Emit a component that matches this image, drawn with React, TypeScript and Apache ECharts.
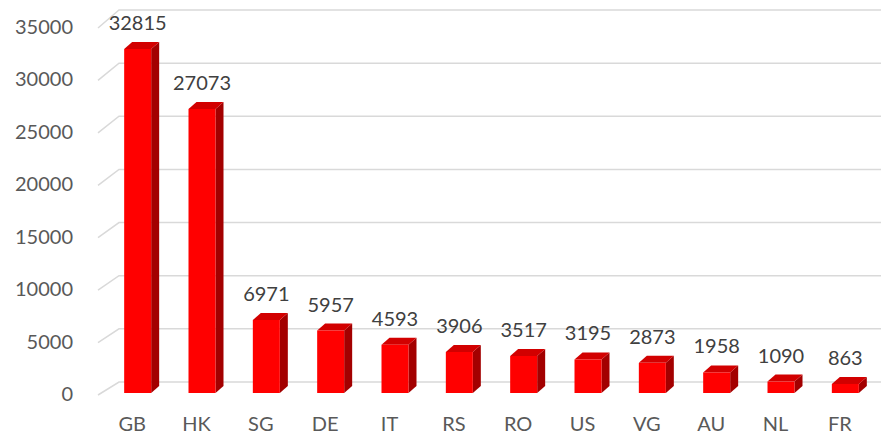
import React, { useEffect, useRef } from "react";
import * as echarts from "echarts";

const categories = ["GB", "HK", "SG", "DE", "IT", "RS", "RO", "US", "VG", "AU", "NL", "FR"];
const values = [32815, 27073, 6971, 5957, 4593, 3906, 3517, 3195, 2873, 1958, 1090, 863];
const yTicks = [0, 5000, 10000, 15000, 20000, 25000, 30000, 35000];

const FONT = "Lato";

export default function App() {
  const ref = useRef<HTMLDivElement>(null);
  useEffect(() => {
    const chart = echarts.init(ref.current!, null, { renderer: "svg" });
    const option: any = {
      animation: false,
      backgroundColor: "#ffffff",
      grid: { left: 100, right: 9, top: 26, bottom: 41 },
      xAxis: {
        type: "category",
        data: categories,
        axisLine: { show: false },
        axisTick: { show: false },
        axisLabel: { color: "#595959", fontSize: 20, fontFamily: FONT, margin: 20 },
      },
      yAxis: {
        type: "value",
        min: 0,
        max: 35000,
        interval: 5000,
        axisLine: { show: false },
        axisTick: { show: false },
        splitLine: { show: false },
        axisLabel: {
          color: "#595959",
          fontSize: 20,
          fontFamily: FONT,
          margin: 27,
          formatter: (v: number) => String(v),
        },
      },
      series: [
        {
          type: "custom",
          z: 1,
          data: yTicks.map((t) => [0, t]),
          renderItem: (params: any, api: any) => {
            const cs = params.coordSys;
            const v = api.value(1);
            const yFront = api.coord([0, v])[1];
            const y0 = api.coord([0, 0])[1];
            const yBack = 382 + (yFront - y0) * (372 / (y0 - cs.y));
            const xb = cs.x + 19;
            return {
              type: "polyline",
              shape: {
                points: [
                  [cs.x - 2, yFront + 2],
                  [xb, yBack],
                  [cs.x + cs.width + 9, yBack],
                ],
              },
              style: { stroke: "#d9d9d9", lineWidth: 1.5, fill: "none" },
            };
          },
        },
        {
          type: "custom",
          z: 2,
          data: values.map((v, i) => [i, v]),
          renderItem: (params: any, api: any) => {
            const i = api.value(0);
            const v = api.value(1);
            const base = api.coord([i, 0]);
            const top = api.coord([i, v]);
            const cx = base[0] + 5.5;
            const w = 27;
            const x0 = cx - w / 2;
            const x1 = cx + w / 2;
            const dx = 8;
            const dy = -7;
            const yt = top[1];
            const yb = base[1];
            return {
              type: "group",
              children: [
                {
                  type: "polygon",
                  shape: { points: [[x1, yt], [x1 + dx, yt + dy], [x1 + dx, yb + dy], [x1, yb]] },
                  style: { fill: "#a30000" },
                },
                {
                  type: "polygon",
                  shape: { points: [[x0, yt], [x1, yt], [x1 + dx, yt + dy], [x0 + dx, yt + dy]] },
                  style: { fill: "#d20000" },
                },
                {
                  type: "rect",
                  shape: { x: x0, y: yt, width: w, height: yb - yt },
                  style: { fill: "#ff0000" },
                },
                {
                  type: "text",
                  style: {
                    text: String(v),
                    x: cx,
                    y: yt - 27,
                    textAlign: "center",
                    textVerticalAlign: "middle",
                    fill: "#404040",
                    fontSize: 20,
                    fontFamily: FONT,
                  },
                },
              ],
            };
          },
        },
      ],
    };
    chart.setOption(option);
    return () => chart.dispose();
  }, []);
  return (
    <div
      ref={ref}
      style={{ position: "absolute", left: 0, top: 0, width: 881, height: 434 }}
    />
  );
}
